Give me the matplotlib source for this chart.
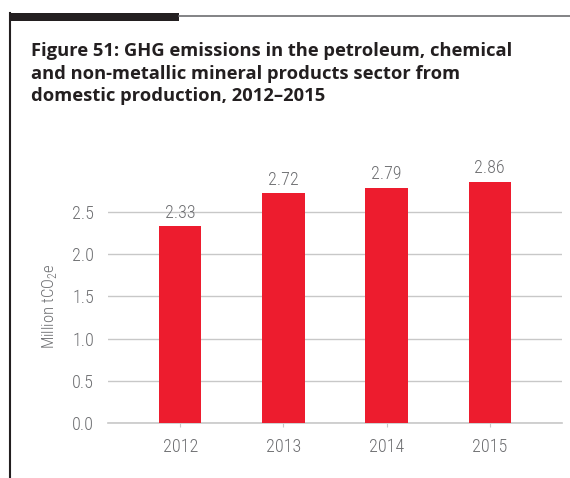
import matplotlib
matplotlib.use("Agg")
import matplotlib.pyplot as plt
from matplotlib.lines import Line2D
from matplotlib.patches import Rectangle

years = ["2012", "2013", "2014", "2015"]
emissions = [2.33, 2.72, 2.79, 2.86]
yticks = [0.0, 0.5, 1.0, 1.5, 2.0, 2.5]

RED = "#ed1c2e"
GREY = "#6d6e71"
GRID = "#c8c8c8"
NARROW = ["Roboto Condensed", "DejaVu Sans"]
LIGHT = 300

plt.rcParams["mathtext.fontset"] = "custom"
plt.rcParams["mathtext.rm"] = "Roboto Condensed:light"

W, H = 570, 478
fig = plt.figure(figsize=(W / 100, H / 100), dpi=100)

# page frame: heavy tab, thin rule, left edge
fig.add_artist(Rectangle((9 / W, 1 - 21 / H), 170 / W, 8 / H, transform=fig.transFigure,
                         color="#231f20", lw=0))
fig.add_artist(Line2D([179 / W, 1], [1 - 15.5 / H] * 2, transform=fig.transFigure,
                      color="#6d6e71", lw=1.2))
fig.add_artist(Line2D([10 / W, 10 / W], [0, 1 - 13 / H], transform=fig.transFigure,
                      color="#231f20", lw=1.5))

fig.text(31 / W, 1 - 42 / H,
         "Figure 51: GHG emissions in the petroleum, chemical\n"
         "and non-metallic mineral products sector from\n"
         "domestic production, 2012\u20132015",
         ha="left", va="top", fontsize=13.2, fontweight="bold", family="Open Sans",
         color="#231f20", linespacing=1.33)

ax = fig.add_axes([108 / W, 55 / H, 454 / W, 249 / H])
x = range(len(years))
bars = ax.bar(x, emissions, width=0.41, color=RED, zorder=3)
for rect, v in zip(bars, emissions):
    ax.text(rect.get_x() + rect.get_width() / 2, v + 0.05, f"{v:.2f}",
            ha="center", va="bottom", fontsize=13, family=NARROW, fontweight=LIGHT, color=GREY)

ax.set_xlim(-0.7, 3.7)
ax.set_ylim(0, 2.95)
ax.set_yticks(yticks)
ax.set_yticklabels([f"{t:.1f}" for t in yticks], family=NARROW, fontweight=LIGHT,
                   fontsize=13, color=GREY)
ax.set_xticks(list(x))
ax.set_xticklabels(years, family=NARROW, fontweight=LIGHT, fontsize=13, color=GREY)
ax.yaxis.grid(True, color=GRID, lw=1, zorder=0)
ax.tick_params(axis="y", length=0, pad=10)
ax.tick_params(axis="x", length=3, color=GRID, pad=8)
for s in ["top", "right", "left"]:
    ax.spines[s].set_visible(False)
ax.spines["bottom"].set_color(GRID)
ax.spines["bottom"].set_linewidth(1.2)
ax.set_ylabel("Million tCO$_2$e", family=NARROW, fontweight=LIGHT, fontsize=12,
              color=GREY)
ax.yaxis.set_label_coords(-0.108, 0.47)

fig.savefig("out.png", dpi=100, facecolor="white")
